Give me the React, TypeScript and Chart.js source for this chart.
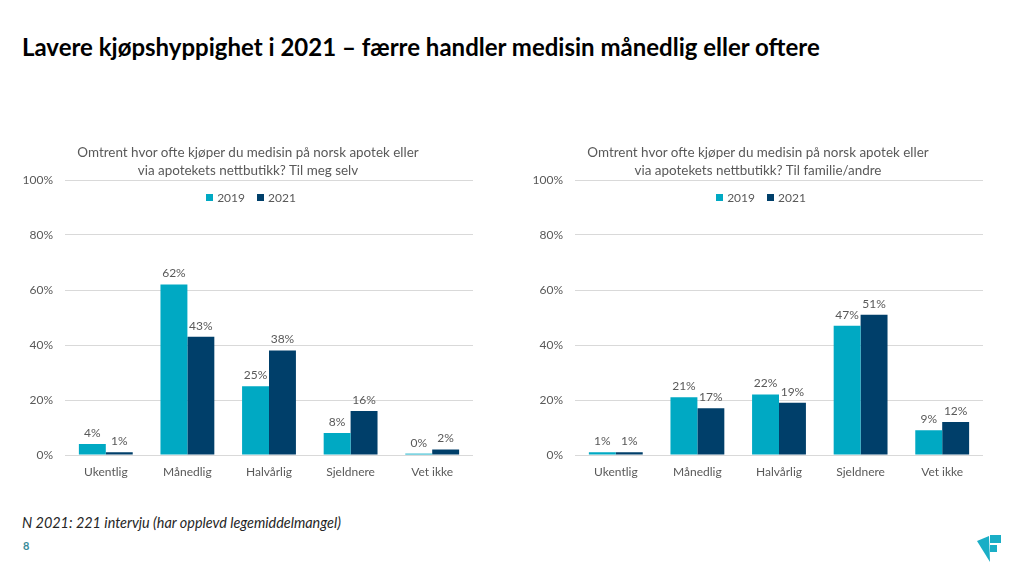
import React, { useEffect, useRef } from "react";
import { Chart, registerables } from "chart.js";

Chart.register(...registerables);

const categories = ["Ukentlig", "Månedlig", "Halvårlig", "Sjeldnere", "Vet ikke"];
const selv2019 = [4, 62, 25, 8, 0.5];
const selv2021 = [1, 43, 38, 16, 2];
const selvLabels2019 = ["4%", "62%", "25%", "8%", "0%"];
const selvLabels2021 = ["1%", "43%", "38%", "16%", "2%"];
const fam2019 = [1, 21, 22, 47, 9];
const fam2021 = [1, 17, 19, 51, 12];
const famLabels2019 = ["1%", "21%", "22%", "47%", "9%"];
const famLabels2021 = ["1%", "17%", "19%", "51%", "12%"];
const yTicks = [0, 20, 40, 60, 80, 100];
const seriesNames = ["2019", "2021"];

const C2019 = "#00A9C3";
const C2021 = "#003F6A";
const FONT = "Lato, 'Open Sans', sans-serif";
const GRAY = "#595959";

const labelPlugin = {
  id: "barLabels",
  afterDatasetsDraw(chart: any) {
    const ctx = chart.ctx;
    ctx.save();
    ctx.font = `12px ${FONT}`;
    ctx.fillStyle = GRAY;
    ctx.textAlign = "center";
    ctx.textBaseline = "bottom";
    chart.data.datasets.forEach((ds: any, di: number) => {
      const meta = chart.getDatasetMeta(di);
      meta.data.forEach((bar: any, i: number) => {
        ctx.fillText(ds.labelsText[i], bar.x, bar.y - 5);
      });
    });
    ctx.restore();
  },
};

function BarChart(props: { a: number[]; b: number[]; la: string[]; lb: string[] }) {
  const ref = useRef<HTMLCanvasElement>(null);
  useEffect(() => {
    const chart = new Chart(ref.current!, {
      type: "bar",
      data: {
        labels: categories,
        datasets: [
          { label: seriesNames[0], data: props.a, backgroundColor: C2019, labelsText: props.la, categoryPercentage: 0.66, barPercentage: 1 } as any,
          { label: seriesNames[1], data: props.b, backgroundColor: C2021, labelsText: props.lb, categoryPercentage: 0.66, barPercentage: 1 } as any,
        ],
      },
      options: {
        animation: false,
        responsive: false,
        maintainAspectRatio: false,
        layout: { padding: { top: 50, right: 27, bottom: 8, left: 0 } },
        plugins: { legend: { display: false }, tooltip: { enabled: false }, title: { display: false } },
        scales: {
          x: {
            grid: { display: false, drawTicks: false },
            border: { display: false },
            ticks: { color: GRAY, font: { family: FONT, size: 12 }, padding: 10 },
            afterFit: (s: any) => { s.height = 37; },
          },
          y: {
            min: 0,
            max: 100,
            afterBuildTicks: (s: any) => { s.ticks = yTicks.map((v) => ({ value: v })); },
            grid: { color: "#D9D9D9", drawTicks: false, lineWidth: 1 },
            border: { display: false },
            ticks: { color: GRAY, font: { family: FONT, size: 12 }, padding: 12, callback: (v: any) => v + "%" },
            afterFit: (s: any) => { s.width = 65; },
          },
        },
      },
      plugins: [labelPlugin],
    });
    return () => chart.destroy();
  }, []);
  return <canvas ref={ref} width={500} height={370} style={{ width: 500, height: 370, display: "block" }} />;
}

function Legend(props: { center: number }) {
  const item = (c: string, t: string) => (
    <span style={{ display: "inline-flex", alignItems: "center", margin: "0 6px" }}>
      <span style={{ width: 7, height: 7, background: c, display: "inline-block", marginRight: 4 }} />
      <span>{t}</span>
    </span>
  );
  return (
    <div style={{ position: "absolute", left: props.center - 100, width: 200, top: 189, textAlign: "center", font: `12px ${FONT}`, color: GRAY, lineHeight: "16px" }}>
      {item(C2019, seriesNames[0])}
      {item(C2021, seriesNames[1])}
    </div>
  );
}

function SubTitle(props: { center: number; l1: string; l2: string }) {
  return (
    <div style={{ position: "absolute", left: props.center - 220, width: 440, top: 143, textAlign: "center", font: `13.45px ${FONT}`, color: GRAY, lineHeight: "18px" }}>
      <div>{props.l1}</div>
      <div>{props.l2}</div>
    </div>
  );
}

export default function App() {
  return (
    <div style={{ position: "absolute", left: 0, top: 0, width: 1024, height: 576, background: "#fff", overflow: "hidden", fontFamily: FONT }}>
      <div style={{ position: "absolute", left: 22, top: 31, font: `bold 24px ${FONT}`, color: "#000", whiteSpace: "nowrap", lineHeight: "32px" }}>
        Lavere kjøpshyppighet i 2021 – færre handler medisin månedlig eller oftere
      </div>
      <div style={{ position: "absolute", left: 0, top: 130 }}>
        <BarChart a={selv2019} b={selv2021} la={selvLabels2019} lb={selvLabels2021} />
      </div>
      <div style={{ position: "absolute", left: 510, top: 130 }}>
        <BarChart a={fam2019} b={fam2021} la={famLabels2019} lb={famLabels2021} />
      </div>
      <SubTitle center={248} l1="Omtrent hvor ofte kjøper du medisin på norsk apotek eller" l2="via apotekets nettbutikk? Til meg selv" />
      <SubTitle center={758} l1="Omtrent hvor ofte kjøper du medisin på norsk apotek eller" l2="via apotekets nettbutikk? Til familie/andre" />
      <Legend center={251} />
      <Legend center={761} />
      <div style={{ position: "absolute", left: 22, top: 513, font: `italic 14.4px ${FONT}`, color: "#262626", whiteSpace: "nowrap", lineHeight: "20px" }}>
        N 2021: 221 intervju (har opplevd legemiddelmangel)
      </div>
      <div style={{ position: "absolute", left: 23, top: 539, font: `bold 11px ${FONT}`, color: "#3A8C99", lineHeight: "14px" }}>8</div>
      <svg style={{ position: "absolute", left: 970, top: 530 }} width={40} height={36} viewBox="0 0 40 36">
        <polygon points="7,11 19,6 20,32" fill="#1AAEC6" />
        <rect x={20} y={5} width={11} height={8} fill="#1AAEC6" />
        <rect x={20} y={15} width={7} height={7} fill="#1AAEC6" />
      </svg>
    </div>
  );
}
